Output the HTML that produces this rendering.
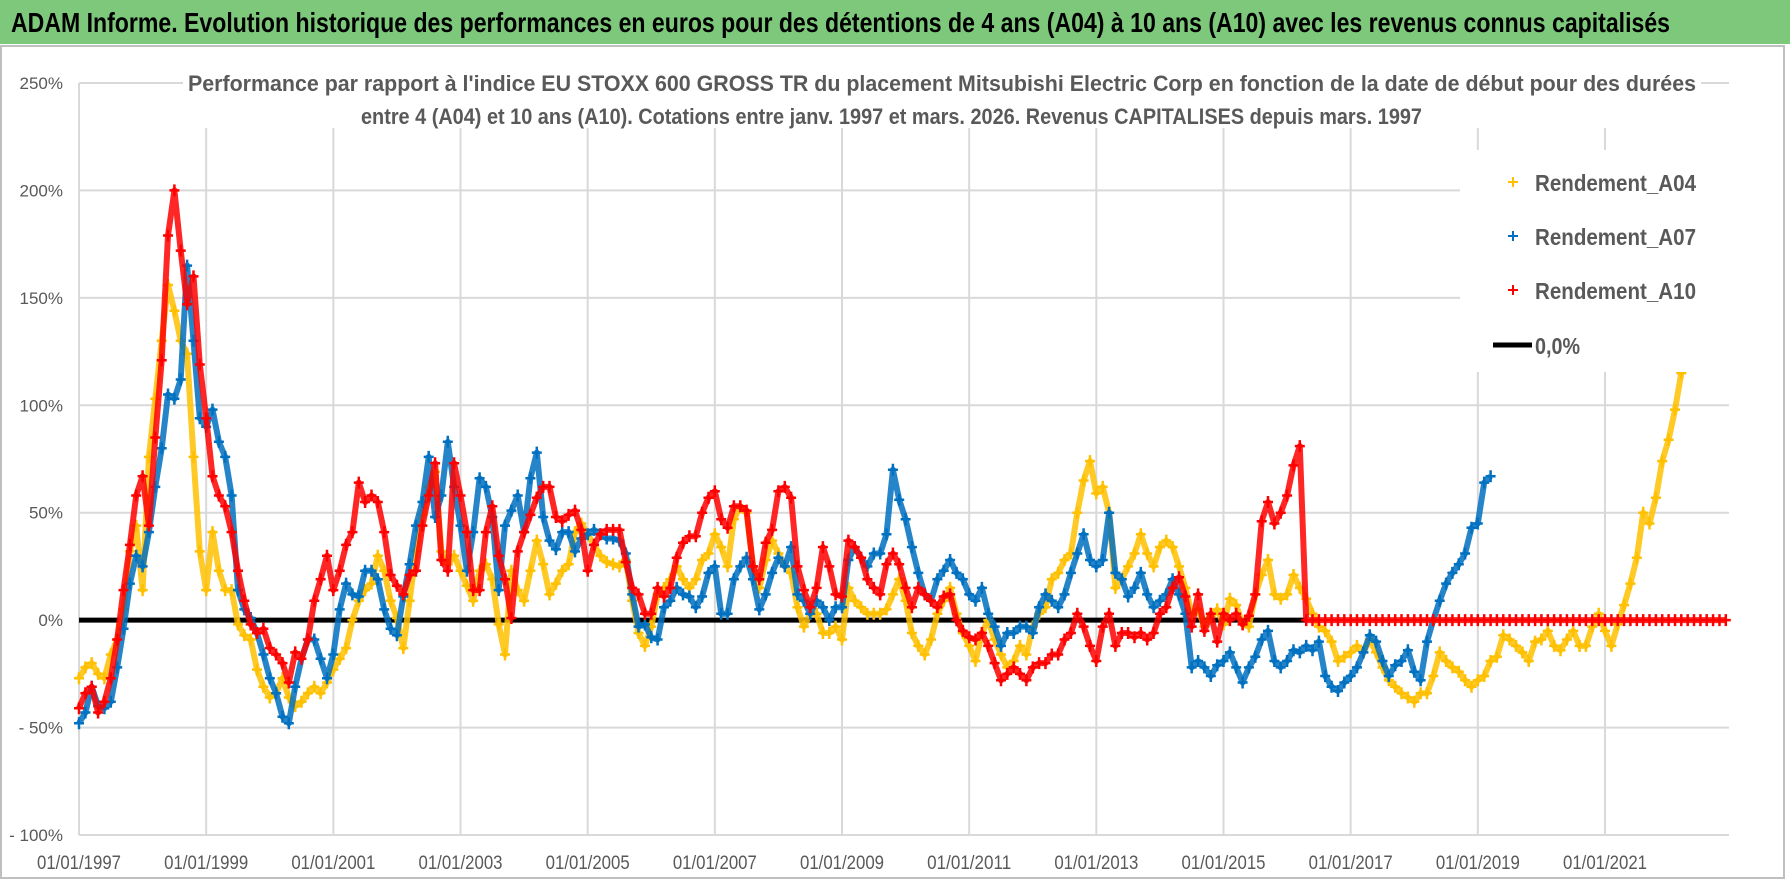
<!DOCTYPE html>
<html><head><meta charset="utf-8"><style>
html,body{margin:0;padding:0;background:#fff;}
svg{display:block;}
</style></head><body>
<svg id="chart" width="1790" height="886" viewBox="0 0 1790 886" xmlns="http://www.w3.org/2000/svg">
<rect x="0" y="0" width="1790" height="44" fill="#7ec87c"/>
<text x="11" y="32" font-family="Liberation Sans Narrow, Liberation Sans, sans-serif" font-weight="bold" font-size="28" fill="#000" textLength="1659" lengthAdjust="spacingAndGlyphs">ADAM Informe. Evolution historique des performances en euros pour des détentions de 4 ans (A04) à 10 ans (A10) avec les revenus connus capitalisés</text>
<rect x="1" y="46" width="1783" height="832" fill="#fff" stroke="#bfbfbf" stroke-width="2"/>
<g id="grid"></g>
<rect x="183" y="64" width="1518" height="64" fill="#fff"/>
<text x="188" y="91" font-family="Liberation Sans, sans-serif" font-weight="bold" font-size="22" fill="#595959" textLength="1508" lengthAdjust="spacingAndGlyphs">Performance par rapport à l'indice EU STOXX 600 GROSS TR  du placement Mitsubishi Electric Corp en fonction de la date de début pour des durées</text>
<text x="361" y="124" font-family="Liberation Sans, sans-serif" font-weight="bold" font-size="22" fill="#595959" textLength="1061" lengthAdjust="spacingAndGlyphs">entre 4 (A04) et 10 ans (A10). Cotations entre janv. 1997 et mars. 2026. Revenus CAPITALISES depuis mars. 1997</text>
<g id="axes"></g>
<g id="series"></g>
<g id="legend">
<rect x="1460" y="150" width="269" height="222" fill="#fff"/>
<g><path d="M1508 182h10M1513 177v10" stroke="#FFC000" stroke-width="2"/><text x="1535" y="191" font-family="Liberation Sans, sans-serif" font-weight="bold" font-size="23" fill="#595959" textLength="161" lengthAdjust="spacingAndGlyphs">Rendement_A04</text></g>
<g><path d="M1508 236h10M1513 231v10" stroke="#0070C0" stroke-width="2"/><text x="1535" y="245" font-family="Liberation Sans, sans-serif" font-weight="bold" font-size="23" fill="#595959" textLength="161" lengthAdjust="spacingAndGlyphs">Rendement_A07</text></g>
<g><path d="M1508 290h10M1513 285v10" stroke="#FF0000" stroke-width="2"/><text x="1535" y="299" font-family="Liberation Sans, sans-serif" font-weight="bold" font-size="23" fill="#595959" textLength="161" lengthAdjust="spacingAndGlyphs">Rendement_A10</text></g>
<g><path d="M1493 345h39" stroke="#000" stroke-width="5"/><text x="1535" y="354" font-family="Liberation Sans, sans-serif" font-weight="bold" font-size="23" fill="#595959" textLength="45" lengthAdjust="spacingAndGlyphs">0,0%</text></g>
</g>
</svg>
<script>
const yTicks=[250,200,150,100,50,0,-50,-100];
const yTickLabels=["250%","200%","150%","100%","50%","0%","- 50%","- 100%"];
const xTicks=[1997,1999,2001,2003,2005,2007,2009,2011,2013,2015,2017,2019,2021];
const xTickLabels=["01/01/1997","01/01/1999","01/01/2001","01/01/2003","01/01/2005","01/01/2007","01/01/2009","01/01/2011","01/01/2013","01/01/2015","01/01/2017","01/01/2019","01/01/2021"];
const startYear=1997;
const stepYear=0.1;
const a04=[-27,-22,-20,-25,-27,-16,-9,5,32,44,
14,76,103,130,156,144,130,124,76,32,
14,41,23,14,14,-2,-7,-9,-23,-31,
-36,-34,-27,-36,-40,-38,-34,-31,-34,-29,
-23,-18,-13,0,9,14,17,30,23,9,
1,-13,9,32,49,62,69,32,26,30,
23,16,9,23,26,19,-2,-16,23,14,
9,23,37,26,12,17,23,26,41,45,
40,35,30,27,26,25,28,9,-6,-12,
-3,12,15,19,25,19,15,19,28,31,
40,34,25,47,53,50,25,15,28,37,
31,25,22,6,-3,3,3,-6,-6,-3,
-9,15,9,6,3,3,3,5,12,19,
9,-6,-12,-16,-9,3,9,15,3,-6,
-12,-19,-6,0,-9,-16,-22,-19,-12,-16,
-3,3,6,19,22,28,31,50,65,74,
59,62,50,15,19,25,31,40,31,25,
34,37,34,25,15,3,5,-3,2,5,
-2,10,7,-2,-3,12,21,28,12,10,
12,21,15,10,3,-3,-5,-10,-19,-17,
-15,-12,-15,-9,-15,-22,-28,-31,-34,-36,
-38,-34,-34,-26,-15,-19,-22,-24,-28,-31,
-28,-26,-19,-17,-7,-9,-12,-15,-19,-10,
-9,-5,-12,-14,-9,-5,-12,-12,-3,3,
-5,-12,-2,7,17,29,50,45,57,74,
84,98,115];
const a07=[-48,-43,-31,-40,-41,-38,-22,-4,17,30,
25,41,62,80,105,103,112,165,130,94,
90,98,83,76,58,14,5,1,-6,-16,
-27,-34,-45,-48,-31,-18,-9,-9,-18,-27,
-16,5,17,12,11,23,23,19,5,-4,
-7,11,26,44,55,76,48,58,83,62,
44,23,41,66,62,48,14,44,51,58,
41,66,78,48,37,33,41,41,32,38,
40,42,40,38,38,37,31,12,-3,-2,
-8,-9,6,9,15,12,11,6,11,22,
25,3,3,19,25,29,19,5,12,22,
29,25,34,12,9,3,9,6,0,6,
6,28,34,29,25,31,31,40,70,56,
47,34,22,12,9,19,23,28,22,19,
12,9,15,3,-3,-12,-6,-6,-3,-3,
-6,6,12,9,6,12,22,31,40,28,
25,28,50,22,19,11,15,22,12,6,
9,12,19,12,3,-22,-19,-22,-26,-21,
-19,-15,-22,-29,-22,-17,-9,-5,-19,-22,
-19,-14,-15,-12,-14,-10,-26,-31,-33,-29,
-26,-22,-15,-7,-10,-19,-26,-21,-19,-14,
-24,-28,-10,0,9,17,22,26,31,43,
45,64,67];
const a10=[-41,-34,-31,-43,-38,-27,-9,14,35,58,
67,44,85,121,179,200,172,147,160,119,
94,67,58,53,41,23,9,-2,-6,-4,
-13,-16,-20,-29,-15,-18,-9,9,19,30,
14,23,35,41,64,55,58,55,41,21,
16,12,21,23,44,58,73,28,23,73,
58,41,14,14,41,53,30,19,1,32,
41,49,57,62,62,48,46,49,51,42,
23,35,40,42,42,42,27,15,12,3,
3,15,11,15,29,36,39,39,50,57,
60,47,43,53,53,51,25,19,36,42,
60,62,57,25,14,6,15,34,25,12,
11,37,34,29,19,15,12,26,31,26,
15,6,15,12,9,6,11,12,0,-5,
-8,-9,-6,-12,-20,-28,-25,-22,-25,-28,
-22,-20,-20,-16,-16,-9,-6,3,-3,-12,
-19,-3,3,-12,-6,-6,-8,-6,-9,-6,
3,6,15,20,11,-3,12,-5,3,-10,
3,0,3,-2,2,12,46,55,45,50,
58,72,81,0,0,0,0,0,0,0,
0,0,0,0,0,0,0,0,0,0,
0,0,0,0,0,0,0,0,0,0,
0,0,0,0,0,0,0,0,0,0,
0,0,0,0,0,0,0,0,0,0,
0,0,0,0,0,0,0,0,0,0,
0,0,0,0,0,0,0,0,0,0];
const zeroLineStart=1997;
const zeroLineEnd=2016.3;

const NS="http://www.w3.org/2000/svg";
const plotL=79,plotR=1729,yearMin=1997,yearMax=2022.95,yTop=83,yBot=835,vMax=250,vMin=-100;
function xs(yr){return plotL+(yr-yearMin)/(yearMax-yearMin)*(plotR-plotL);}
function ys(v){return yTop+(vMax-v)/(vMax-vMin)*(yBot-yTop);}
function mk(tag,attrs,parent){const e=document.createElementNS(NS,tag);for(const k in attrs)e.setAttribute(k,attrs[k]);parent.appendChild(e);return e;}

const grid=document.getElementById('grid');
const axes=document.getElementById('axes');
yTicks.forEach((v,i)=>{
  const l=mk('line',{x1:plotL,x2:plotR,y1:ys(v),y2:ys(v),stroke:'#d9d9d9','stroke-width':2},grid);
  
  
  const t=mk('text',{x:63,y:ys(v)+6,'text-anchor':'end','font-family':'Liberation Sans, sans-serif','font-size':17,fill:'#595959'},axes);
  t.textContent=yTickLabels[i];
  
  
});
xTicks.forEach((yr,i)=>{
  const l=mk('line',{x1:xs(yr),x2:xs(yr),y1:yTop,y2:yBot,stroke:'#d9d9d9','stroke-width':2},grid);
  
  
  const t=mk('text',{x:xs(yr),y:869,'text-anchor':'middle','font-family':'Liberation Sans, sans-serif','font-size':19,fill:'#595959',textLength:84,lengthAdjust:'spacingAndGlyphs'},axes);
  t.textContent=xTickLabels[i];
  
  
});

const series=document.getElementById('series');
const zl=mk('line',{x1:xs(zeroLineStart),x2:xs(zeroLineEnd),y1:ys(0),y2:ys(0),stroke:'#000','stroke-width':5},series);



function drawSeries(vals,color,name){
  const g=mk('g',{},series);
  
  
  const pts=vals.map((v,i)=>xs(startYear+i*stepYear).toFixed(1)+','+ys(v).toFixed(1)).join(' ');
  const pl=mk('polyline',{points:pts,fill:'none',stroke:color,'stroke-width':6,'stroke-linejoin':'round','stroke-opacity':0.85},g);
  
  
  let d='';
  vals.forEach((v,i)=>{
    const x=xs(startYear+i*stepYear),y=ys(v);
    d+='M'+(x-5).toFixed(1)+' '+y.toFixed(1)+'h10M'+x.toFixed(1)+' '+(y-6).toFixed(1)+'v12';
  });
  const p=mk('path',{d:d,stroke:color,'stroke-width':2.5,fill:'none'},g);
  
  
}
drawSeries(a04,'#FFC000','series-a04');
drawSeries(a07,'#0070C0','series-a07');
drawSeries(a10,'#FF0000','series-a10');
document.getElementById('chart').appendChild(document.getElementById('legend'));
</script>
</body></html>
